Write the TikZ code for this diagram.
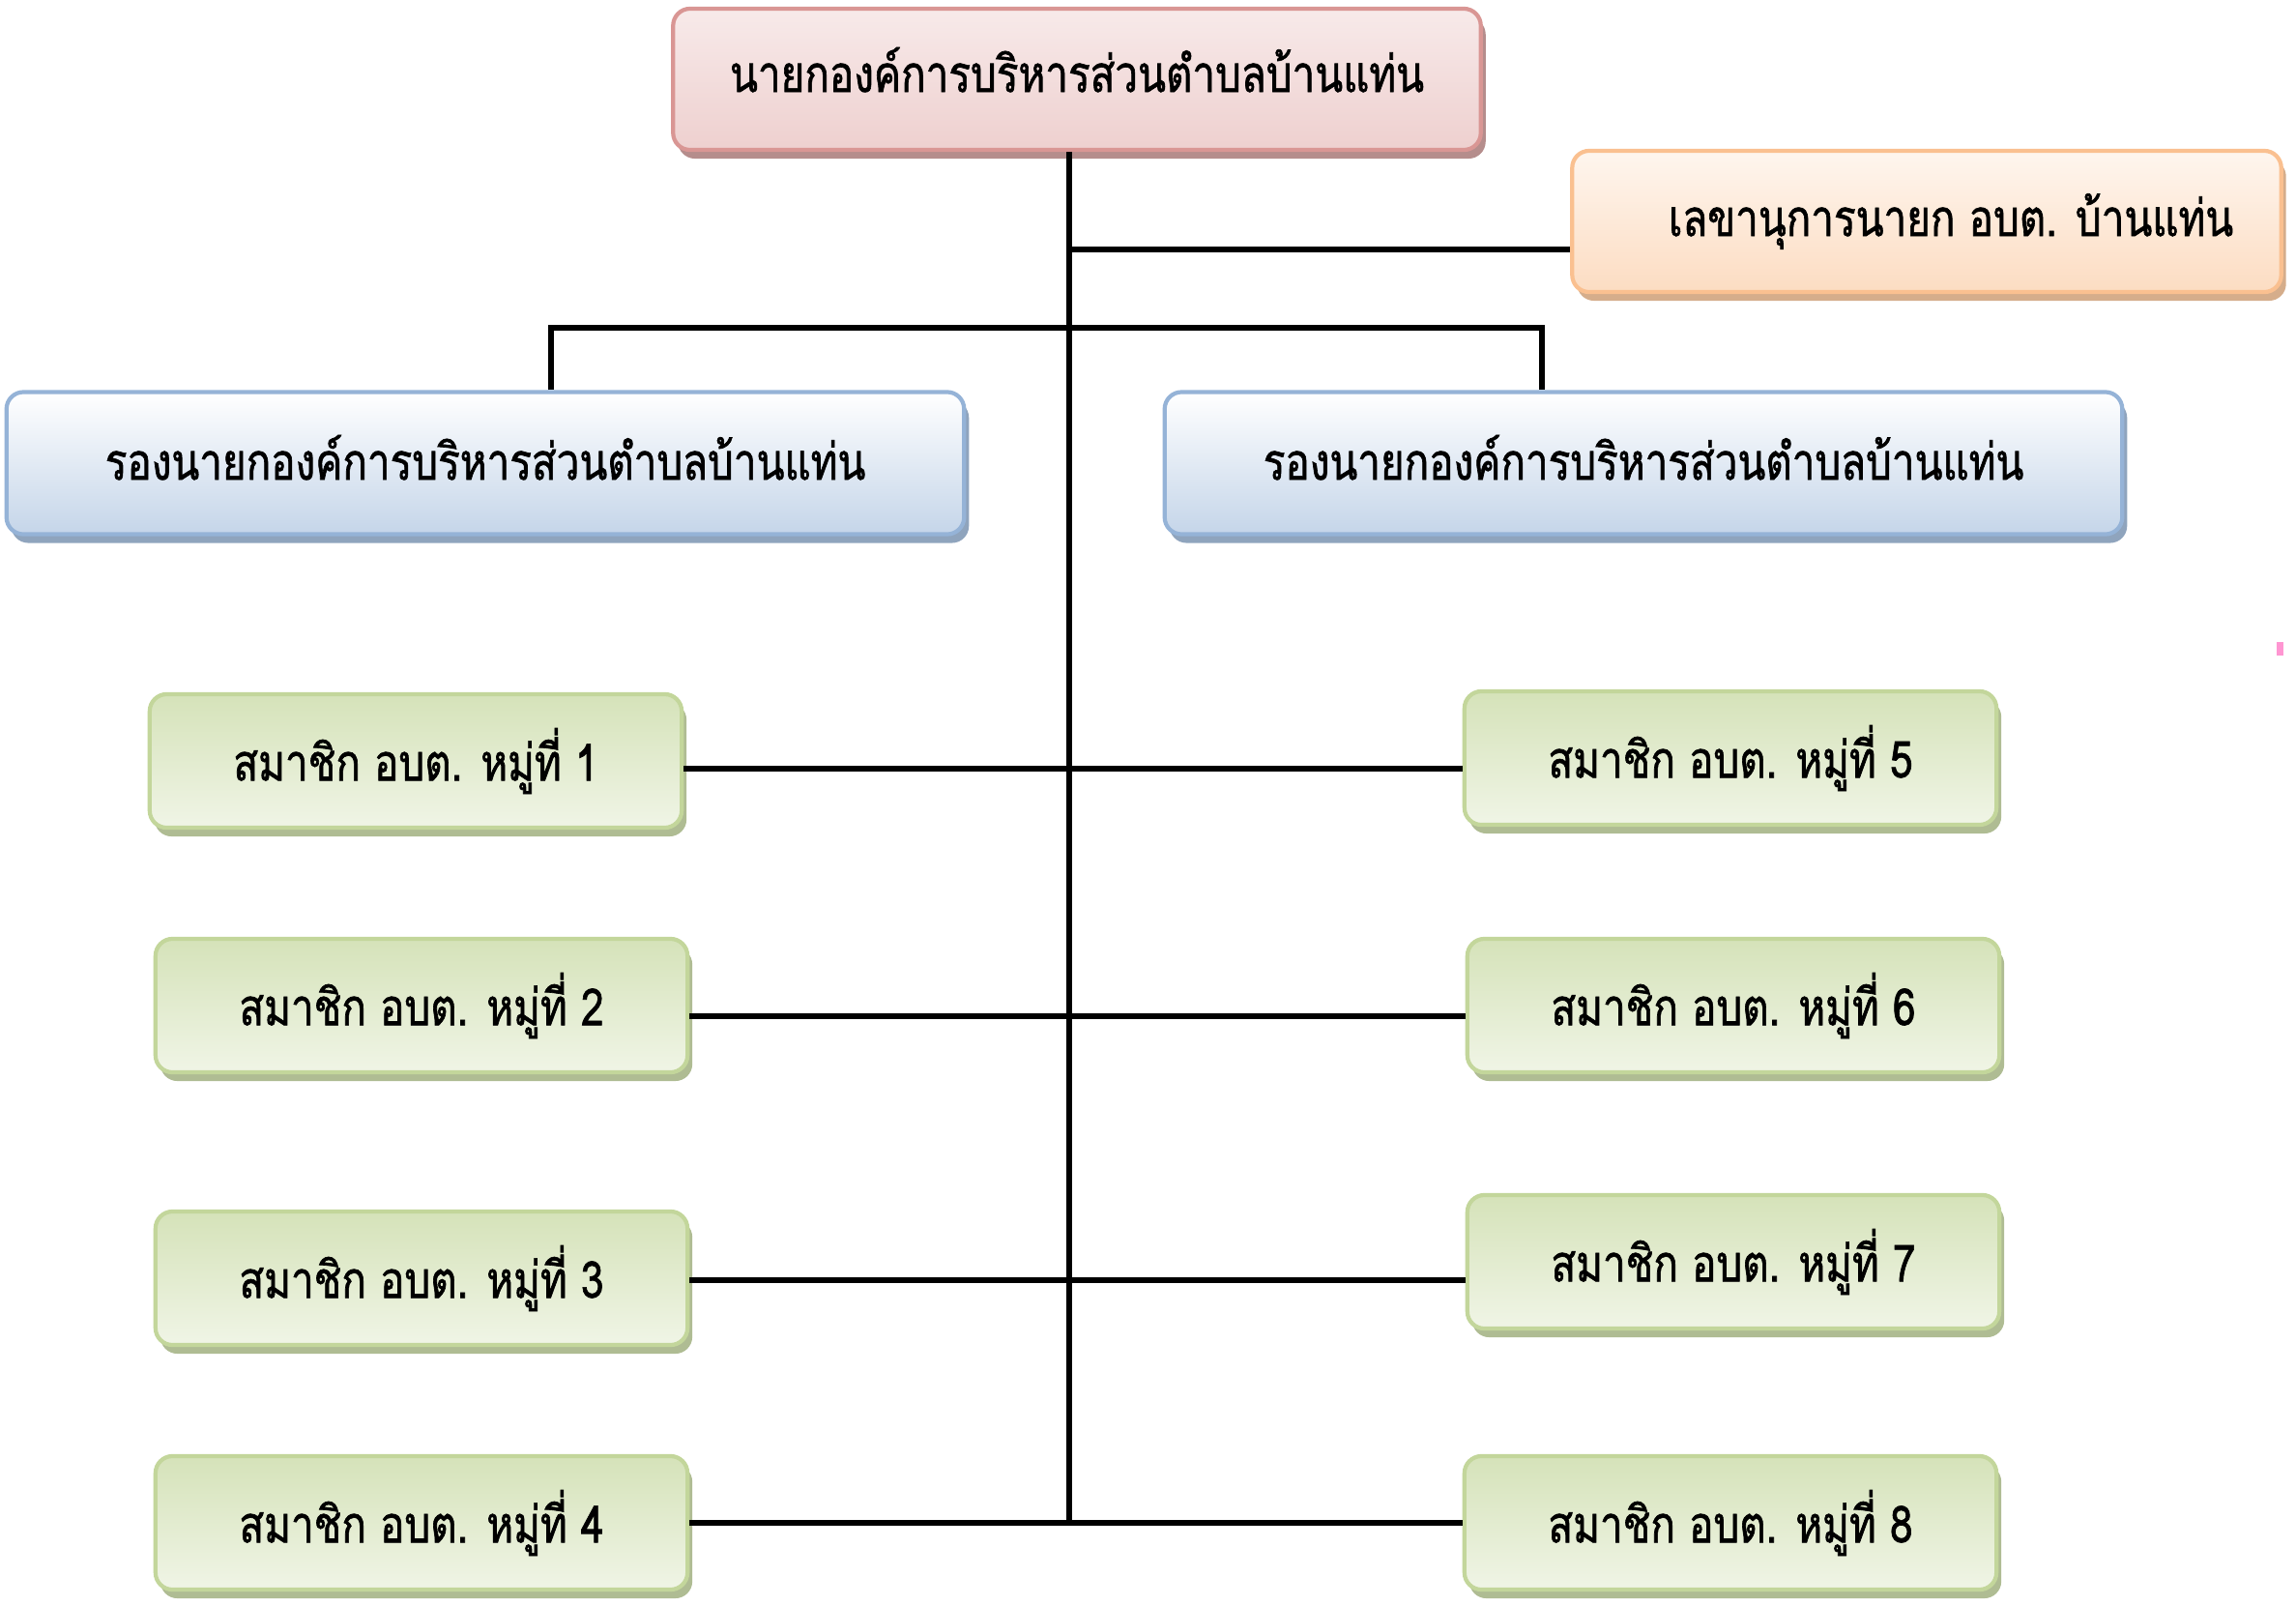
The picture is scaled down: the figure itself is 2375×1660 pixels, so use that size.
\documentclass[tikz,border=0pt]{standalone}
\usepackage{fontspec}
\newfontfamily\thaifont[Script=Thai, FakeStretch=0.8, FakeBold=1.2]{Loma}
\usetikzlibrary{positioning, shadows, calc}
\definecolor{headcolor}{RGB}{217, 150, 148}
\definecolor{seccolor}{RGB}{250, 192, 144}
\definecolor{vicecolor}{RGB}{149, 179, 215}
\definecolor{membercolor}{RGB}{195, 214, 155}
\definecolor{dotcolor}{RGB}{255, 150, 210}

\begin{document}
\begin{tikzpicture}[
    x=0.01cm, y=-0.01cm,
    box/.style={rectangle, rounded corners=5pt, line width=1.2pt, align=center, inner sep=0pt,
        font=\thaifont\fontsize{15}{17}\selectfont},
    headbox/.style={box, draw=headcolor, top color=headcolor!20, bottom color=headcolor!45,
        drop shadow={shadow xshift=0.5mm, shadow yshift=-0.9mm, fill=headcolor!60!gray, opacity=1},
        minimum width=8.35cm, minimum height=1.46cm},
    secbox/.style={box, draw=seccolor, top color=seccolor!15, bottom color=seccolor!55,
        drop shadow={shadow xshift=0.5mm, shadow yshift=-0.9mm, fill=seccolor!70!gray, opacity=1},
        minimum width=7.33cm, minimum height=1.46cm},
    vicebox/.style={box, draw=vicecolor, top color=white, bottom color=vicecolor!55,
        drop shadow={shadow xshift=0.5mm, shadow yshift=-0.9mm, fill=vicecolor!70!gray, opacity=1},
        minimum width=9.9cm, minimum height=1.47cm},
    memberbox/.style={box, draw=membercolor, top color=membercolor!70, bottom color=membercolor!25,
        drop shadow={shadow xshift=0.5mm, shadow yshift=-0.9mm, fill=membercolor!70!gray, opacity=1},
        minimum width=5.5cm, minimum height=1.38cm},
    link/.style={line width=1.6pt, black},
]
\useasboundingbox (0,0) rectangle (2375,1660);

% ============ ผู้บริหาร ============
\node[headbox] (head) at (1114,82) {\raisebox{2mm}{นายกองค์การบริหารส่วนตำบลบ้านแท่น}};
\node[secbox] (sec) at (1993,229) {\hspace*{0.5cm}เลขานุการนายก อบต. บ้านแท่น};
\node[vicebox] (vice_l) at (502,479) {\raisebox{1.2mm}{รองนายกองค์การบริหารส่วนตำบลบ้านแท่น}};
\node[vicebox] (vice_r) at (1700,479) {\raisebox{1.2mm}{รองนายกองค์การบริหารส่วนตำบลบ้านแท่น}};

% ============ สมาชิก อบต. ============
\node[memberbox] (m1) at (430,787) {\raisebox{0.5mm}{สมาชิก อบต. หมู่ที่ 1}};
\node[memberbox] (m2) at (436,1040) {\raisebox{0.5mm}{สมาชิก อบต. หมู่ที่ 2}};
\node[memberbox] (m3) at (436,1322) {\raisebox{0.5mm}{สมาชิก อบต. หมู่ที่ 3}};
\node[memberbox] (m4) at (436,1575) {\raisebox{0.5mm}{สมาชิก อบต. หมู่ที่ 4}};
\node[memberbox] (m5) at (1790,784) {\raisebox{0.5mm}{สมาชิก อบต. หมู่ที่ 5}};
\node[memberbox] (m6) at (1793,1040) {\raisebox{0.5mm}{สมาชิก อบต. หมู่ที่ 6}};
\node[memberbox] (m7) at (1793,1305) {\raisebox{0.5mm}{สมาชิก อบต. หมู่ที่ 7}};
\node[memberbox] (m8) at (1790,1575) {\raisebox{0.5mm}{สมาชิก อบต. หมู่ที่ 8}};

% ============ เส้นเชื่อม ============
\coordinate (trunk_top) at (1106,0 |- head.south);
\coordinate (trunk_end) at (1106,1575);
\coordinate (to_sec) at (1106,258);
\coordinate (to_vice) at (1106,339);
\coordinate (row1) at (1106,795);
\coordinate (row2) at (1106,1051);
\coordinate (row3) at (1106,1324);
\coordinate (row4) at (1106,1575);
\coordinate (drop_l) at (570,339);
\coordinate (drop_r) at (1595,339);

% ลำต้น
\draw[link] (trunk_top) -- (trunk_end);

% เลขานุการ
\draw[link] (to_sec) -- (to_sec -| sec.west);

% รองนายก
\draw[link] (drop_l |- vice_l.north) -- (drop_l) -- (drop_r) -- (drop_r |- vice_r.north);

% สมาชิก
\draw[link] (row1 -| m1.east) -- (row1 -| m5.west);
\draw[link] (row2 -| m2.east) -- (row2 -| m6.west);
\draw[link] (row3 -| m3.east) -- (row3 -| m7.west);
\draw[link] (row4 -| m4.east) -- (row4 -| m8.west);

% จุดสี
\fill[dotcolor] (2355,664) rectangle (2362,678);

\end{tikzpicture}
\end{document}
